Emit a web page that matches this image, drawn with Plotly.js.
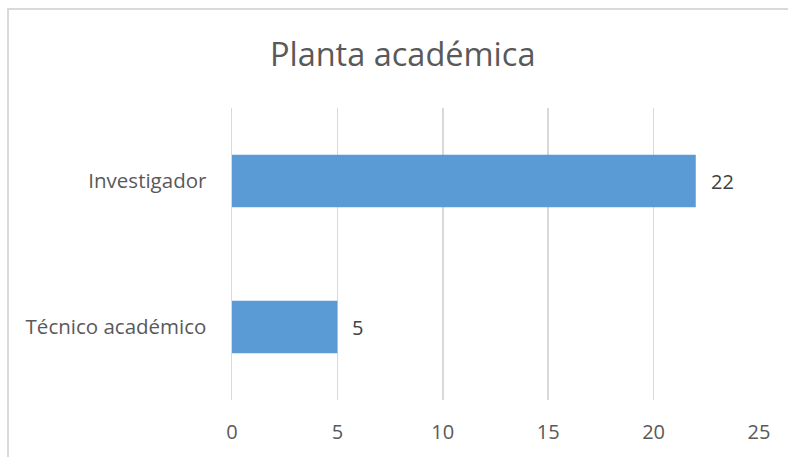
<!DOCTYPE html>
<html><head><meta charset="utf-8">
<script src="https://cdn.plot.ly/plotly-3.0.1.min.js"></script>
<style>
html,body{margin:0;padding:0;background:#fff;overflow:hidden;}
#frame{position:absolute;left:7px;top:8px;width:800px;height:470px;border-left:2px solid #d9d9d9;border-top:2px solid #d9d9d9;pointer-events:none;z-index:5;}
#chart{position:absolute;left:0;top:0;width:788px;height:457px;}
</style></head>
<body>
<div id="chart"></div><div id="frame"></div>
<script>
const categories = ["Técnico académico", "Investigador"];
const values = [5, 22];
const xTicks = [0, 5, 10, 15, 20, 25];
const chartTitle = "Planta académica";

const trace = {
  type: 'bar', orientation: 'h',
  x: values, y: categories,
  marker: {color: '#5b9bd5'},
  hoverinfo: 'none'
};
const annotations = values.map((v, i) => ({
  x: v, y: categories[i], xref: 'x', yref: 'y',
  text: String(v), showarrow: false, xanchor: 'left', xshift: 13,
  font: {family: 'Open Sans', size: 20, color: '#404040'}
}));
const layout = {
  width: 788, height: 457,
  margin: {l: 232, r: 29, t: 108, b: 57},
  paper_bgcolor: '#fff', plot_bgcolor: '#fff',
  title: {text: chartTitle, x: 0.511, xanchor: 'center', y: 0.88, yanchor: 'middle',
          font: {family: 'Open Sans', size: 32.5, color: '#595959'}},
  bargap: 0.64,
  showlegend: false,
  xaxis: {range: [0, 25], tickvals: xTicks, showgrid: true, gridcolor: '#d9d9d9', gridwidth: 1.5,
          zeroline: false, showline: false, ticks: 'outside', ticklen: 14, tickcolor: 'rgba(0,0,0,0)',
          tickfont: {family: 'Open Sans', size: 20, color: '#595959'}, fixedrange: true},
  yaxis: {type: 'category', categoryorder: 'array', categoryarray: categories, range: [-0.5, 1.5],
          showgrid: false, zeroline: false, showline: true, linecolor: '#d9d9d9', linewidth: 1.5,
          ticks: 'outside', ticklen: 20, tickcolor: 'rgba(0,0,0,0)',
          tickfont: {family: 'Open Sans', size: 20.5, color: '#595959'}, fixedrange: true},
  annotations: annotations
};
Plotly.newPlot('chart', [trace], layout, {displayModeBar: false, staticPlot: true});
</script>
</body></html>
